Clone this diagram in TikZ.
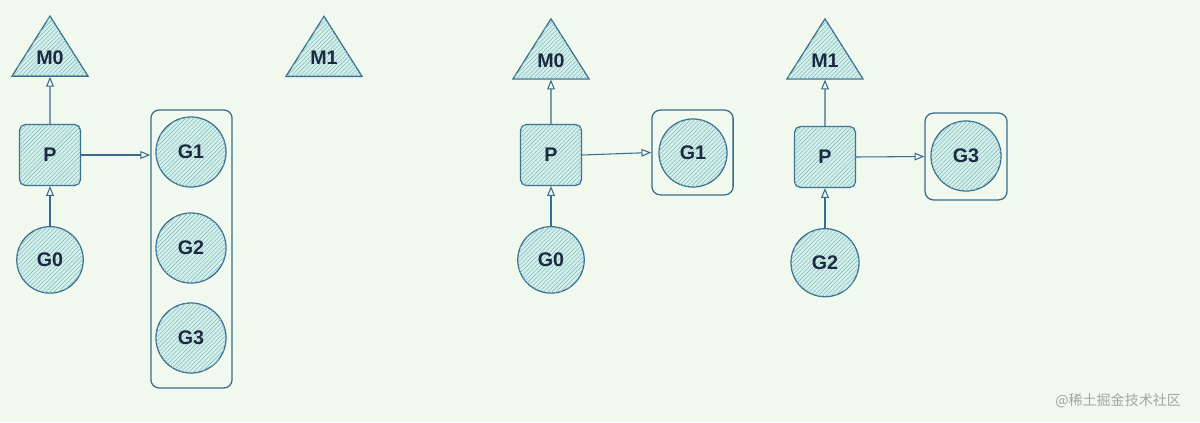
\documentclass[tikz,border=0pt]{standalone}
\usepackage{fontspec}
\setmainfont{Liberation Sans}
\newfontfamily\cjk{Noto Sans CJK SC}
\usetikzlibrary{positioning,shapes.geometric,patterns,arrows.meta}
\definecolor{bgcol}{HTML}{F1F9EF}
\definecolor{inkcol}{HTML}{386C8E}
\definecolor{hatchcol}{HTML}{7FC2C6}
\definecolor{fillcol}{HTML}{D8EFE8}
\definecolor{txtcol}{HTML}{1B2A42}
\definecolor{markcol}{HTML}{A3A6A3}
\newcommand{\mlabel}[1]{\raisebox{3pt}{#1}}
\tikzset{
  hatch/.style={fill=fillcol, postaction={pattern=north east lines, pattern color=hatchcol}},
  base/.style={draw=inkcol, line width=0.9pt, text=txtcol, inner sep=0pt,
    font=\fontsize{14}{16}\selectfont\bfseries},
  mnode/.style={base, hatch, isosceles triangle, shape border rotate=90,
    isosceles triangle stretches, minimum width=1.9cm, minimum height=1.5cm},
  pnode/.style={base, hatch, rectangle, rounded corners=4pt, minimum size=1.52cm},
  gnode/.style={base, hatch, circle, minimum size=#1},
  gnode/.default=1.7cm,
  runq/.style={draw=inkcol, line width=0.9pt, rectangle, rounded corners=6pt},
  link/.style={draw=inkcol, line width=0.75pt, -{Triangle[open,length=7pt,width=5.5pt]}}
}

\begin{document}
\begin{tikzpicture}[x=0.025cm, y=-0.025cm]
  \fill[bgcol] (0,0) rectangle (1200,422);
  \useasboundingbox (0,0) rectangle (1200,422);

  % before
  \node [pnode] (pa) at (50,155) {P};
  \node [mnode, above=1.18cm of pa] (m0a) {\mlabel{M0}};
  \node [gnode=1.66cm, below=1cm of pa] (g0a) {G0};
  \node [mnode, anchor=south] (m1a) at (324,77) {\mlabel{M1}};
  \node [runq, minimum width=2.03cm, minimum height=6.95cm] (qa) at (191.5,249) {};
  \node [gnode=1.75cm] (g1a) at (191,152) {G1};
  \node [gnode=1.75cm] (g2a) at (191,248) {G2};
  \node [gnode=1.75cm] (g3a) at (191,338) {G3};

  \draw [link] (g0a) -- (pa);
  \draw [link] (pa) -- (m0a);
  \draw [link] (pa.east) -- (qa.west |- pa.east);

  % after
  \node [pnode] (pb) at (551,155) {P};
  \node [mnode, above=1.11cm of pb] (m0b) {\mlabel{M0}};
  \node [gnode=1.66cm, below=1cm of pb] (g0b) {G0};
  \node [runq, minimum width=2.03cm, minimum height=2.12cm] (qb) at (692.5,152.5) {};
  \node [gnode] (g1b) at (693,153) {G1};

  \draw [link] (g0b) -- (pb);
  \draw [link] (pb) -- (m0b);
  \draw [link] (pb.east) -- (qb.west);

  \node [pnode] (pc) at (825,157) {P};
  \node [mnode, above=1.16cm of pc] (m1c) {\mlabel{M1}};
  \node [gnode, below=1cm of pc] (g2c) {G2};
  \node [runq, minimum width=2.05cm, minimum height=2.17cm] (qc) at (966,156.5) {};
  \node [gnode=1.75cm] (g3c) at (966,156) {G3};

  \draw [link] (g2c) -- (pc);
  \draw [link] (pc) -- (m1c);
  \draw [link] (pc.east) -- (qc.west);

  \node [text=markcol, font=\cjk\fontsize{10}{12}\selectfont, anchor=east] (mark) at (1186,401) {@稀土掘金技术社区};
\end{tikzpicture}
\end{document}
